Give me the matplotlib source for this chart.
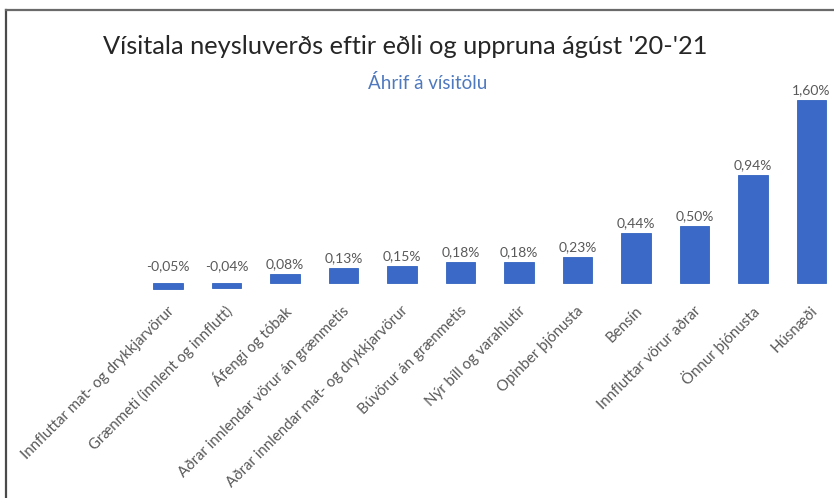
import matplotlib
matplotlib.use("Agg")
import matplotlib.pyplot as plt
from matplotlib.lines import Line2D
from matplotlib.transforms import ScaledTranslation

categories = [
    "Innfluttar mat- og drykkjarvörur",
    "Grænmeti (innlent og innflutt)",
    "Áfengi og tóbak",
    "Aðrar innlendar vörur án grænmetis",
    "Aðrar innlendar mat- og drykkjarvörur",
    "Búvörur án grænmetis",
    "Nýr bíll og varahlutir",
    "Opinber þjónusta",
    "Bensín",
    "Innfluttar vörur aðrar",
    "Önnur þjónusta",
    "Húsnæði",
]
values = [-0.05, -0.04, 0.08, 0.13, 0.15, 0.18, 0.18, 0.23, 0.44, 0.50, 0.94, 1.60]
title = "Vísitala neysluverðs eftir eðli og uppruna ágúst '20-'21"
subtitle = "Áhrif á vísitölu"

plt.rcParams['font.family'] = ['Lato', 'DejaVu Sans']

W, H = 834, 498
fig = plt.figure(figsize=(W / 100, H / 100), dpi=100)
fig.patch.set_facecolor("white")

ax_left_px, ax_right_px = 130, 834
ax_top_px, ax_bot_px = 60, 292
base_px = 283
unit_x = 58.5
unit_y = 114.4
x0_px = 168

ax = fig.add_axes([ax_left_px / W, 1 - ax_bot_px / H,
                   (ax_right_px - ax_left_px) / W, (ax_bot_px - ax_top_px) / H])
xmin = -(x0_px - ax_left_px) / unit_x
xmax = xmin + (ax_right_px - ax_left_px) / unit_x
ymax = (base_px - ax_top_px) / unit_y
ymin = -(ax_bot_px - base_px) / unit_y
ax.set_xlim(xmin, xmax)
ax.set_ylim(ymin, ymax)

xs = list(range(len(categories)))
bars = ax.bar(xs, values, width=0.5, color="#3B69C8", edgecolor="#3262BE",
              linewidth=0.6, zorder=2, clip_on=False)

for x, v in zip(xs, values):
    y = max(v, 0)
    off = 10 if v >= 0 else 17
    ax.annotate(f"{v:.2f}%".replace(".", ","), (x, y), xytext=(0, off),
                textcoords="offset pixels", ha="center", va="center",
                fontsize=10, color="#595959")

ax.set_xticks(xs)
ax.set_xticklabels(categories, rotation=45, ha="right", va="center",
                   rotation_mode="anchor", fontsize=10.8, color="#595959")
ax.tick_params(axis="x", length=0, pad=12)
shift = ScaledTranslation(4 / 100, 0, fig.dpi_scale_trans)
for lbl in ax.get_xticklabels():
    lbl.set_transform(lbl.get_transform() + shift)
ax.set_yticks([])
for s in ax.spines.values():
    s.set_visible(False)
ax.patch.set_visible(False)

fig.text(405 / W, 1 - 47 / H, title, ha="center", va="center",
         fontsize=18.3, color="#262626")
fig.text(428 / W, 1 - 83 / H, subtitle, ha="center", va="center",
         fontsize=13.5, color="#4E79BE")

fig.add_artist(Line2D([6 / W, 6 / W], [0, 1 - 10 / H], color="#4a4a4a",
                      linewidth=1.6, transform=fig.transFigure))
fig.add_artist(Line2D([6 / W, 1], [1 - 10 / H, 1 - 10 / H], color="#6a6a6a",
                      linewidth=1.6, transform=fig.transFigure))

fig.savefig("out.png", dpi=100)
